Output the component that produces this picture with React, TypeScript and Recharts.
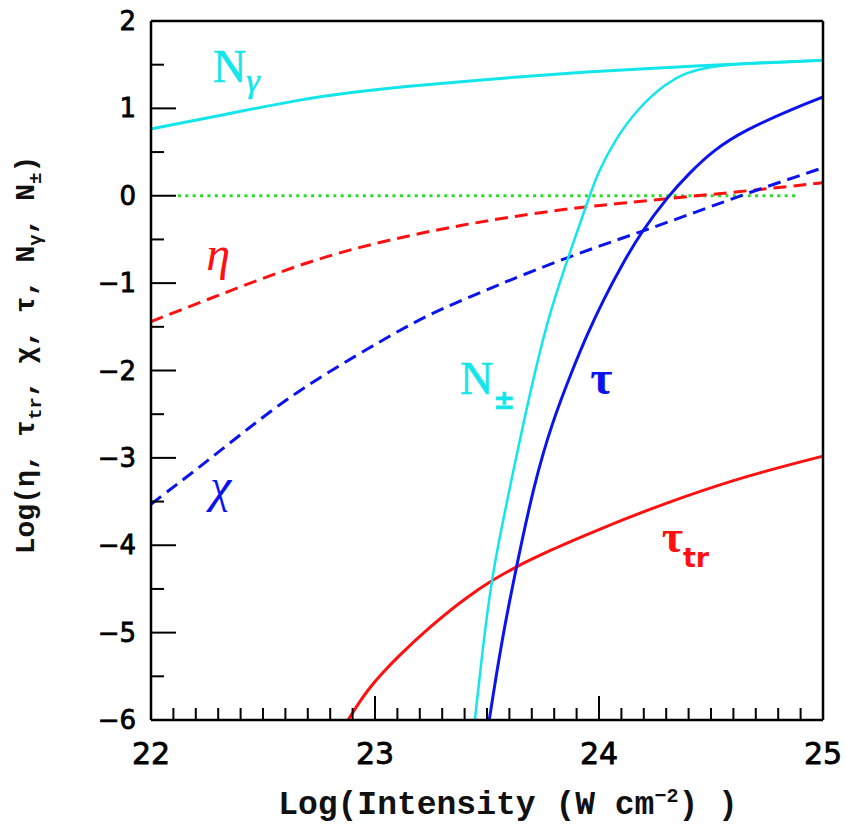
import React from "react";
import { LineChart, Line, XAxis, YAxis, ReferenceDot } from "recharts";

// Log(Intensity) positions and values, one pair of arrays per curve
const nGammaX = [22, 22.33, 22.66, 22.9, 23.11, 23.5, 23.83, 24.2, 24.48, 24.6, 24.72, 25];
const nGammaY = [0.765, 0.93, 1.1, 1.185, 1.245, 1.33, 1.4, 1.455, 1.49, 1.505, 1.52, 1.55];

const nPairX = [23.446, 23.482, 23.521, 23.563, 23.64, 23.706, 23.778, 23.89, 23.958, 23.995, 24.07, 24.18, 24.3, 24.39, 24.48, 24.6, 24.72, 25];
const nPairY = [-6, -5.15, -4.39, -3.82, -2.87, -2.1, -1.34, -0.5, 0, 0.26, 0.64, 1.02, 1.29, 1.41, 1.47, 1.505, 1.52, 1.55];

const tauX = [23.51, 23.565, 23.63, 23.71, 23.79, 23.88, 23.95, 24.02, 24.1, 24.19, 24.31, 24.4, 24.51, 24.65, 24.87, 25];
const tauY = [-6, -5.1, -4.26, -3.3, -2.6, -2.0, -1.57, -1.19, -0.8, -0.41, 0, 0.25, 0.52, 0.75, 1.0, 1.13];

const etaX = [22, 22.2, 22.4, 22.6, 22.8, 23.0, 23.2, 23.4, 23.6, 23.85, 24.1, 24.4, 24.7, 25];
const etaY = [-1.44, -1.24, -1.04, -0.85, -0.68, -0.545, -0.43, -0.33, -0.245, -0.15, -0.085, -0.01, 0.065, 0.15];

const chiX = [22, 22.22, 22.43, 22.66, 23.0, 23.16, 23.29, 23.55, 23.86, 24.19, 24.45, 24.6, 24.72, 25];
const chiY = [-3.53, -3.1, -2.67, -2.22, -1.7, -1.47, -1.3, -1.02, -0.7, -0.41, -0.17, -0.03, 0.08, 0.32];

const tauTrX = [22.88, 22.94, 23.0, 23.06, 23.11, 23.245, 23.41, 23.52, 23.63, 23.8, 24.0, 24.3, 24.6, 25];
const tauTrY = [-6, -5.76, -5.56, -5.39, -5.26, -4.94, -4.6, -4.41, -4.25, -4.04, -3.82, -3.52, -3.26, -2.98];

const unityX = [22.12, 24.89];
const unityY = [0, 0];

const xMajor = [22, 23, 24, 25];
const yMajor = [-6, -5, -4, -3, -2, -1, 0, 1, 2];

const xTicks = Array.from({ length: 31 }, (_, i) => Math.round((22 + i * 0.1) * 10) / 10);
const yTicks = Array.from({ length: 17 }, (_, i) => -6 + i * 0.5);

const CYAN = "#12e6ea";
const BLUE = "#0c14ee";
const RED = "#ff1010";
const GREEN = "#2adc2a";

const zip = (xs: number[], ys: number[]) => xs.map((x, i) => ({ x, y: ys[i] }));
const isMajor = (v: number, list: number[]) => list.some((m) => Math.abs(m - v) < 1e-6);
const fmt = (v: number) => (v < 0 ? "\u2212" + Math.abs(v) : String(v));

const TICK = { stroke: "#000", strokeWidth: 2 };
const NUM_FONT = "'DejaVu Sans', sans-serif";
const TITLE_FONT = "'Liberation Mono', monospace";
const GREEK_FONT = "'Liberation Serif', serif";

const BottomTick = (p: any) => {
  const v = p.payload.value;
  const major = isMajor(v, xMajor);
  return (
    <g>
      <line x1={p.x} x2={p.x} y1={p.y} y2={p.y - (major ? 24 : 12)} {...TICK} />
      {major && (
        <text x={p.x} y={p.y + 44} textAnchor="middle" fontFamily={NUM_FONT} fontSize={30} fill="#000" stroke="#000" strokeWidth={0.8}>
          {fmt(v)}
        </text>
      )}
    </g>
  );
};

const TopTick = (p: any) => {
  const major = isMajor(p.payload.value, xMajor);
  return <line x1={p.x} x2={p.x} y1={p.y} y2={p.y + (major ? 24 : 12)} {...TICK} />;
};

const LeftTick = (p: any) => {
  const v = p.payload.value;
  const major = isMajor(v, yMajor);
  return (
    <g>
      <line x1={p.x} x2={p.x + (major ? 25 : 13)} y1={p.y} y2={p.y} {...TICK} />
      {major && (
        <text x={p.x - 15} y={p.y + 9} textAnchor="end" fontFamily={NUM_FONT} fontSize={26} fill="#000" stroke="#000" strokeWidth={0.8}>
          {fmt(v)}
        </text>
      )}
    </g>
  );
};

const RightTick = (p: any) => {
  const major = isMajor(p.payload.value, yMajor);
  return <line x1={p.x} x2={p.x - (major ? 25 : 13)} y1={p.y} y2={p.y} {...TICK} />;
};

const XTitle = () => (
  <text x={508} y={814} textAnchor="middle" fontFamily={TITLE_FONT} fontWeight="bold" fontSize={33} fill="#111">
    <tspan>Log(Intensity (W cm</tspan>
    <tspan dy={-12} fontSize={20}>{"\u22122"}</tspan>
    <tspan dy={12}>) )</tspan>
  </text>
);

const YTitle = () => (
  <text x={34} y={355} transform="rotate(-90, 34, 355)" textAnchor="middle" fontFamily={TITLE_FONT} fontWeight="bold" fontSize={28} fill="#111">
    <tspan>Log(η, τ</tspan>
    <tspan dy={7} fontSize={19}>tr</tspan>
    <tspan dy={-7}>, χ, τ, N</tspan>
    <tspan dy={7} fontSize={19}>γ</tspan>
    <tspan dy={-7}>, N</tspan>
    <tspan dy={7} fontSize={19}>±</tspan>
    <tspan dy={-7}>)</tspan>
  </text>
);

type Note = { x: number; y: number; draw: (cx: number, cy: number) => React.ReactElement };

const notes: Note[] = [
  {
    x: 22.277,
    y: 1.3,
    draw: (cx, cy) => (
      <text x={cx} y={cy} fontFamily={GREEK_FONT} fontSize={46} fill={CYAN} stroke={CYAN} strokeWidth={0.6}>
        N<tspan dy={10} fontSize={34} fontStyle="italic">γ</tspan>
      </text>
    ),
  },
  {
    x: 22.3,
    y: -0.85,
    draw: (cx, cy) => (
      <text x={cx} y={cy} textAnchor="middle" fontFamily={GREEK_FONT} fontStyle="italic" fontSize={48} fill={RED}>η</text>
    ),
  },
  {
    x: 22.31,
    y: -3.5,
    draw: (cx, cy) => (
      <text x={cx} y={cy} textAnchor="middle" fontFamily={GREEK_FONT} fontStyle="italic" fontSize={48} fill={BLUE}>χ</text>
    ),
  },
  {
    x: 23.38,
    y: -2.27,
    draw: (cx, cy) => (
      <text x={cx} y={cy} fontFamily={GREEK_FONT} fontSize={46} fill={CYAN} stroke={CYAN} strokeWidth={0.6}>
        N<tspan dy={15} fontSize={26} fontFamily={NUM_FONT} fontWeight="bold">±</tspan>
      </text>
    ),
  },
  {
    x: 24.01,
    y: -2.27,
    draw: (cx, cy) => (
      <text x={cx} y={cy} textAnchor="middle" fontFamily={GREEK_FONT} fontWeight="bold" fontSize={48} fill={BLUE}>τ</text>
    ),
  },
  {
    x: 24.28,
    y: -4.08,
    draw: (cx, cy) => (
      <text x={cx} y={cy} fontFamily={GREEK_FONT} fontWeight="bold" fontSize={46} fill={RED}>
        τ<tspan dy={15} fontSize={27} fontFamily={NUM_FONT} fontWeight="bold">tr</tspan>
      </text>
    ),
  },
];

const AXIS_LINE = { stroke: "#000", strokeWidth: 2.5 };

const App = () => {
  return (
    <div style={{ position: "absolute", left: 0, top: 0, background: "#fff" }}>
      <LineChart width={847} height={833} margin={{ top: 20, right: 23, bottom: 112, left: 150 }}>
        <XAxis
          dataKey="x"
          type="number"
          domain={[22, 25]}
          ticks={xTicks}
          interval={0}
          height={1}
          tickSize={0}
          tickMargin={0}
          tick={<BottomTick />}
          axisLine={AXIS_LINE}
          tickLine={false}
          label={{ content: <XTitle /> }}
        />
        <XAxis
          xAxisId="top"
          orientation="top"
          type="number"
          domain={[22, 25]}
          ticks={xTicks}
          interval={0}
          height={1}
          tickSize={0}
          tickMargin={0}
          tick={<TopTick />}
          axisLine={AXIS_LINE}
          tickLine={false}
        />
        <YAxis
          type="number"
          domain={[-6, 2]}
          ticks={yTicks}
          interval={0}
          width={1}
          tickSize={0}
          tickMargin={0}
          tick={<LeftTick />}
          axisLine={AXIS_LINE}
          tickLine={false}
          label={{ content: <YTitle /> }}
        />
        <YAxis
          yAxisId="right"
          orientation="right"
          type="number"
          domain={[-6, 2]}
          ticks={yTicks}
          interval={0}
          width={1}
          tickSize={0}
          tickMargin={0}
          tick={<RightTick />}
          axisLine={AXIS_LINE}
          tickLine={false}
        />
        <Line data={zip(unityX, unityY)} dataKey="y" type="linear" stroke={GREEN} strokeWidth={3} strokeDasharray="3 4.4" dot={false} isAnimationActive={false} />
        <Line data={zip(etaX, etaY)} dataKey="y" type="basis" stroke={RED} strokeWidth={3} strokeDasharray="13 7" dot={false} isAnimationActive={false} />
        <Line data={zip(chiX, chiY)} dataKey="y" type="basis" stroke={BLUE} strokeWidth={3} strokeDasharray="13 7" dot={false} isAnimationActive={false} />
        <Line data={zip(tauTrX, tauTrY)} dataKey="y" type="monotone" stroke={RED} strokeWidth={3} dot={false} isAnimationActive={false} />
        <Line data={zip(nGammaX, nGammaY)} dataKey="y" type="basis" stroke={CYAN} strokeWidth={3} dot={false} isAnimationActive={false} />
        <Line data={zip(nPairX, nPairY)} dataKey="y" type="basis" stroke={CYAN} strokeWidth={2.5} dot={false} isAnimationActive={false} />
        <Line data={zip(tauX, tauY)} dataKey="y" type="basis" stroke={BLUE} strokeWidth={3} dot={false} isAnimationActive={false} />
        {notes.map((n, i) => (
          <ReferenceDot key={i} x={n.x} y={n.y} r={0} ifOverflow="visible" shape={(p: any) => n.draw(p.cx, p.cy)} />
        ))}
      </LineChart>
    </div>
  );
};

export default App;
